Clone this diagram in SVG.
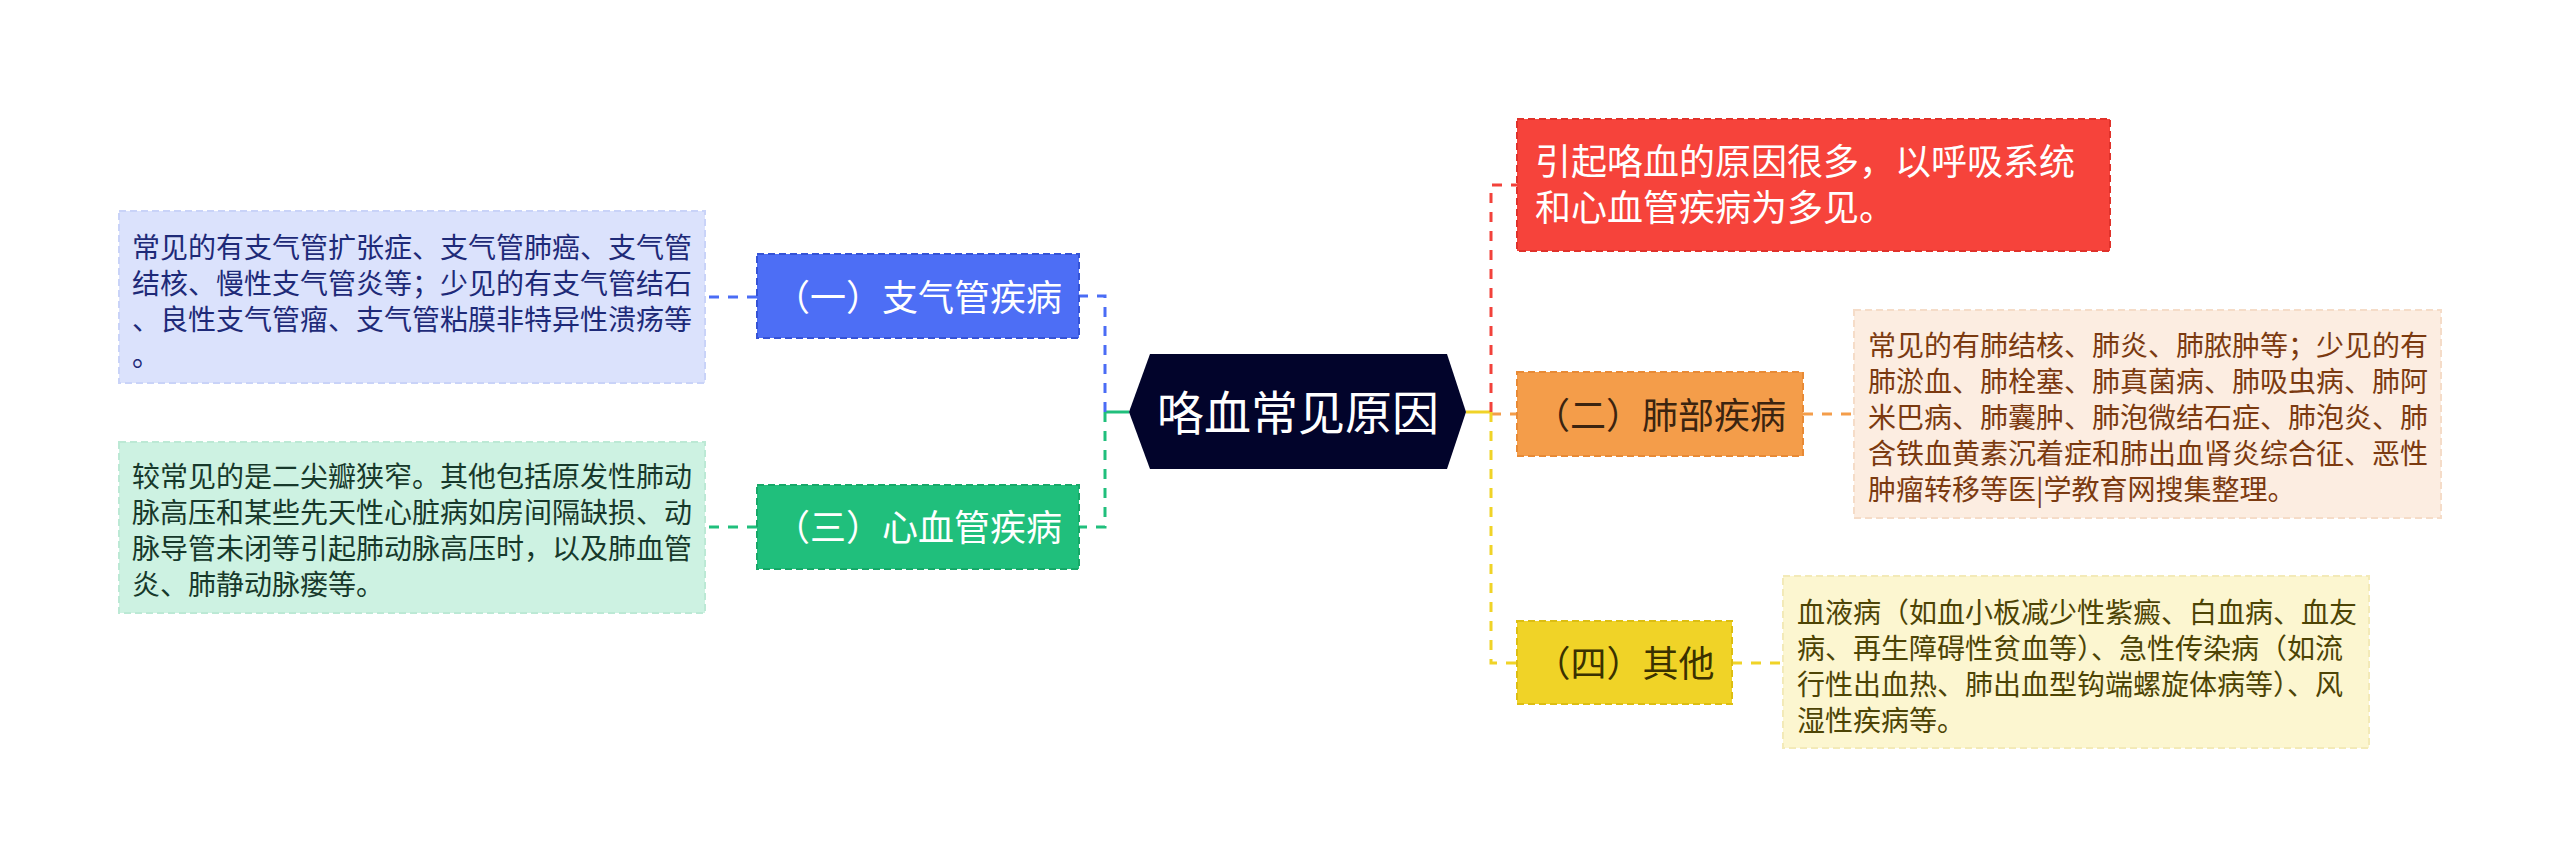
<svg xmlns="http://www.w3.org/2000/svg" width="2560" height="868" viewBox="0 0 2560 868">
<style>
text{font-family:"Noto Sans CJK SC","Noto Sans",sans-serif;}
.nt{font-size:36px;text-anchor:middle;}
.dt{font-size:28px;}
.conn{fill:none;stroke-width:3;}
.dash{stroke-dasharray:10 9;}
.nb{stroke-width:2;stroke-dasharray:7 4;}
.db{stroke-width:2;stroke-dasharray:7 4;}
</style>
<rect width="2560" height="868" fill="#ffffff"/>
<g id="connectors">
  <path class="conn" d="M1129,412 H1105" stroke="#20BF7C"/>
  <path class="conn dash" d="M1105,412 V296 H1079" stroke="#4A6CF5"/>
  <path class="conn dash" d="M1105,412 V527 H1079" stroke="#20BF7C"/>
  <path class="conn" d="M1466,412 H1491" stroke="#F0D327"/>
  <path class="conn dash" d="M1491,412 V185 H1517" stroke="#F2423B"/>
  <path class="conn dash" d="M1491,414 H1517" stroke="#F49D4A"/>
  <path class="conn dash" d="M1491,412 V663 H1517" stroke="#F0D327"/>
  <path class="conn dash" d="M757,297 H705" stroke="#4A6CF5"/>
  <path class="conn dash" d="M757,527 H705" stroke="#20BF7C"/>
  <path class="conn dash" d="M1803,414 H1854" stroke="#F49D4A"/>
  <path class="conn dash" d="M1732,663 H1783" stroke="#F0D327"/>
</g>
<g id="root">
  <polygon points="1150,354 1447,354 1466,412 1447,469 1150,469 1129,412" fill="#02042B"/>
  <text x="1298" y="430" font-size="47" text-anchor="middle" fill="#ffffff">咯血常见原因</text>
</g>
<g id="node-zhiqiguan">
  <rect class="nb" x="757" y="254" width="322" height="84" fill="#4D6EF5" stroke="#3553D6"/>
  <text class="nt" x="918" y="311" fill="#ffffff">（一）支气管疾病</text>
</g>
<g id="detail-zhiqiguan">
  <rect class="db" x="119" y="211" width="586" height="172" fill="#DBE2FC" stroke="#C9D3F8"/>
  <text class="dt" fill="#1E2A78">
    <tspan x="132" y="258">常见的有支气管扩张症、支气管肺癌、支气管</tspan>
    <tspan x="132" y="294">结核、慢性支气管炎等；少见的有支气管结石</tspan>
    <tspan x="132" y="330">、良性支气管瘤、支气管粘膜非特异性溃疡等</tspan>
    <tspan x="132" y="366">。</tspan>
  </text>
</g>
<g id="node-xinxueguan">
  <rect class="nb" x="757" y="485" width="322" height="84" fill="#20BF7C" stroke="#17A868"/>
  <text class="nt" x="918" y="541" fill="#ffffff">（三）心血管疾病</text>
</g>
<g id="detail-xinxueguan">
  <rect class="db" x="119" y="442" width="586" height="171" fill="#CDF2E2" stroke="#BCE9D5"/>
  <text class="dt" fill="#17392B">
    <tspan x="132" y="487">较常见的是二尖瓣狭窄。其他包括原发性肺动</tspan>
    <tspan x="132" y="523">脉高压和某些先天性心脏病如房间隔缺损、动</tspan>
    <tspan x="132" y="559">脉导管未闭等引起肺动脉高压时，以及肺血管</tspan>
    <tspan x="132" y="595">炎、肺静动脉瘘等。</tspan>
  </text>
</g>
<g id="node-intro">
  <rect class="nb" x="1517" y="119" width="593" height="132" fill="#F6433B" stroke="#E0322B"/>
  <text font-size="36" fill="#ffffff">
    <tspan x="1535" y="175">引起咯血的原因很多，以呼吸系统</tspan>
    <tspan x="1535" y="221">和心血管疾病为多见。</tspan>
  </text>
</g>
<g id="node-feibu">
  <rect class="nb" x="1517" y="372" width="286" height="84" fill="#F49D4A" stroke="#E88A35"/>
  <text class="nt" x="1660" y="429" fill="#3B2410">（二）肺部疾病</text>
</g>
<g id="detail-feibu">
  <rect class="db" x="1854" y="310" width="587" height="208" fill="#FCEDE1" stroke="#F5DCC8"/>
  <text class="dt" fill="#7B3A10">
    <tspan x="1868" y="356">常见的有肺结核、肺炎、肺脓肿等；少见的有</tspan>
    <tspan x="1868" y="392">肺淤血、肺栓塞、肺真菌病、肺吸虫病、肺阿</tspan>
    <tspan x="1868" y="428">米巴病、肺囊肿、肺泡微结石症、肺泡炎、肺</tspan>
    <tspan x="1868" y="464">含铁血黄素沉着症和肺出血肾炎综合征、恶性</tspan>
    <tspan x="1868" y="500">肿瘤转移等医|学教育网搜集整理。</tspan>
  </text>
</g>
<g id="node-qita">
  <rect class="nb" x="1517" y="621" width="215" height="83" fill="#F0D327" stroke="#DDBE12"/>
  <text class="nt" x="1624.5" y="677" fill="#3A3100">（四）其他</text>
</g>
<g id="detail-qita">
  <rect class="db" x="1783" y="576" width="586" height="172" fill="#FCF6D0" stroke="#F3EAB8"/>
  <text class="dt" fill="#4D4405">
    <tspan x="1797" y="623">血液病（如血小板减少性紫癜、白血病、血友</tspan>
    <tspan x="1797" y="659">病、再生障碍性贫血等）、急性传染病（如流</tspan>
    <tspan x="1797" y="695">行性出血热、肺出血型钩端螺旋体病等）、风</tspan>
    <tspan x="1797" y="731">湿性疾病等。</tspan>
  </text>
</g>
</svg>
